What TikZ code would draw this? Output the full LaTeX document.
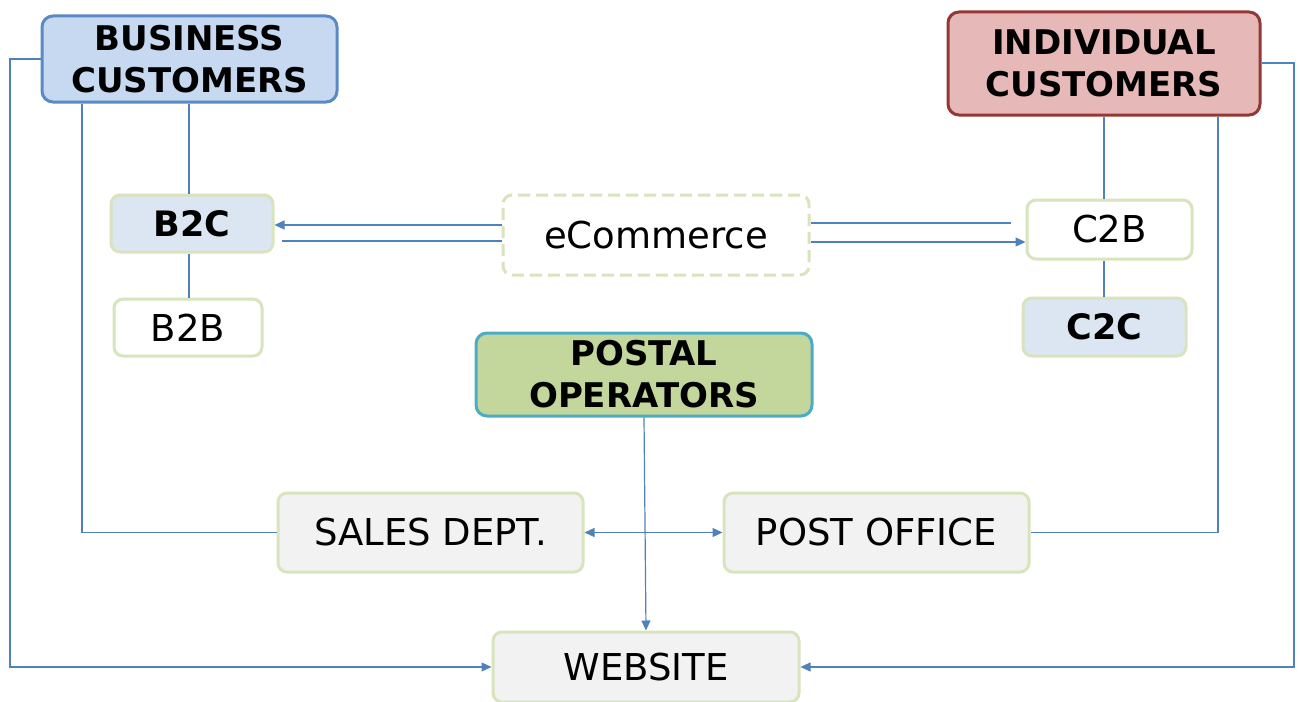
\documentclass[tikz,border=0pt]{standalone}
\usepackage{fontspec}
\setmainfont{DejaVu Sans}
\usetikzlibrary{arrows.meta,calc}
\definecolor{lineblue}{RGB}{79,129,189}
\definecolor{lightgreen}{RGB}{215,228,189}
\definecolor{bcfill}{RGB}{198,217,241}
\definecolor{bcdraw}{RGB}{90,138,198}
\definecolor{icfill}{RGB}{230,185,184}
\definecolor{icdraw}{RGB}{149,55,53}
\definecolor{pofill}{RGB}{195,214,155}
\definecolor{podraw}{RGB}{75,172,198}
\definecolor{paleblue}{RGB}{220,230,242}
\definecolor{palegray}{RGB}{242,242,242}
\tikzset{
  bigbox/.style={rounded corners=11pt, line width=3pt, align=center, inner sep=0pt,
    font=\fontsize{34}{42}\selectfont\bfseries},
  smallbox/.style={rounded corners=9pt, line width=3pt, draw=lightgreen, inner sep=0pt,
    font=\fontsize{37}{42}\selectfont},
  boldsmall/.style={font=\fontsize{35}{40}\selectfont\bfseries},
  conn/.style={draw=lineblue, line width=1.2pt},
  arr/.style={conn, -{Triangle[length=10pt,width=9pt]}},
  darr/.style={conn, {Triangle[length=10pt,width=9pt]}-{Triangle[length=10pt,width=9pt]}},
}
\begin{document}
\begin{tikzpicture}[x=1pt,y=-1pt]
\useasboundingbox (0,0) rectangle (1300,701);
% main boxes
\node[bigbox, fill=bcfill, draw=bcdraw, minimum width=295pt, minimum height=86pt] (BC) at (189.5,59) {BUSINESS\\CUSTOMERS};
\node[bigbox, fill=icfill, draw=icdraw, minimum width=312pt, minimum height=103pt] (IC) at (1104,63.5) {INDIVIDUAL\\CUSTOMERS};
\node[bigbox, fill=pofill, draw=podraw, minimum width=336pt, minimum height=83pt] (PO) at (644,374.5) {POSTAL\\OPERATORS};
% small boxes
\node[smallbox, boldsmall, fill=paleblue, minimum width=162pt, minimum height=57pt] (B2C) at (192,223.5) {B2C};
\node[smallbox, fill=white, minimum width=148pt, minimum height=57pt] (B2B) at (188,327.5) {B2B};
\node[smallbox, fill=white, dashed, dash pattern=on 12pt off 6pt, minimum width=306pt, minimum height=80pt] (EC) at (656,235) {eCommerce};
\node[smallbox, fill=white, minimum width=165pt, minimum height=59pt] (C2B) at (1109.5,229.5) {C2B};
\node[smallbox, boldsmall, fill=paleblue, minimum width=163pt, minimum height=58pt] (C2C) at (1104.5,327) {C2C};
\node[smallbox, fill=palegray, minimum width=305pt, minimum height=79pt] (SD) at (430.5,532.5) {SALES DEPT.};
\node[smallbox, fill=palegray, minimum width=305pt, minimum height=79pt] (POF) at (876.5,532.5) {POST OFFICE};
\node[smallbox, fill=palegray, minimum width=306pt, minimum height=70pt] (WEB) at (646,667) {WEBSITE};
% routing coordinates
\coordinate (Lout) at (10,59);
\coordinate (Lin) at (82,0);
\coordinate (Lb) at (189,0);
\coordinate (Rout) at (1294,63);
\coordinate (Rin) at (1218,0);
\coordinate (Rc) at (1104,0);
\coordinate (ecU) at (0,225);
\coordinate (ecL) at (0,241);
\coordinate (ecRU) at (0,223);
\coordinate (ecRL) at (0,242);
% connectors
\draw[arr] (BC.west |- Lout) -- (Lout) |- (WEB.west);
\draw[conn] (BC.south -| Lin) |- (SD.west);
\draw[conn] (BC.south -| Lb) -- (B2C.north -| Lb);
\draw[conn] (B2C.south -| Lb) -- (B2B.north -| Lb);
\draw[arr] (EC.west |- ecU) -- (B2C.east |- ecU);
\draw[conn] (EC.west |- ecL) -- ([xshift=7pt]B2C.east |- ecL);
\draw[conn] (EC.east |- ecRU) -- ([xshift=-15pt]C2B.west |- ecRU);
\draw[arr] (EC.east |- ecRL) -- (C2B.west |- ecRL);
\draw[conn] (IC.south -| Rc) -- (C2B.north -| Rc);
\draw[conn] (C2B.south -| Rc) -- (C2C.north -| Rc);
\draw[conn] (IC.south -| Rin) |- (POF.east);
\draw[arr] (IC.east |- Rout) -- (Rout) |- (WEB.east);
\draw[arr] (PO.south) -- (WEB.north);
\draw[darr] (SD.east) -- (POF.west);
\end{tikzpicture}
\end{document}
